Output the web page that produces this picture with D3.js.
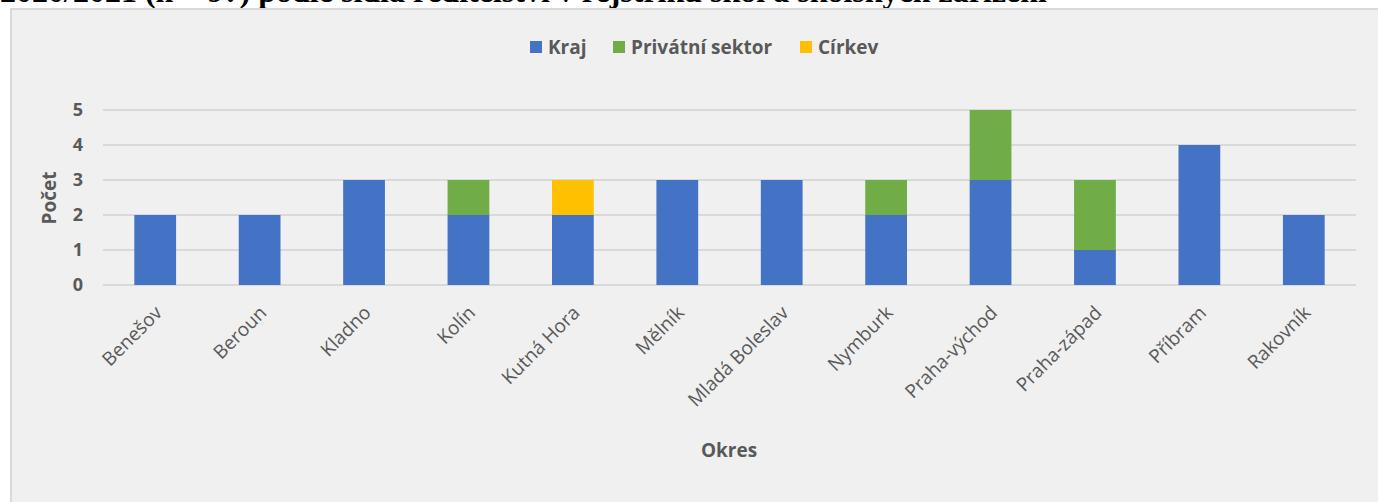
<!DOCTYPE html>
<html>
  <head>
    <meta charset="utf-8">
    <script src="https://d3js.org/d3.v7.min.js"></script>
    <title></title>
    <style>
    body {
      margin: 0;
      background-color: #fff;
      overflow: hidden;
    }
    svg {
      display: block;
    }
    .grid line {
      stroke: #d9d9d9;
      stroke-width: 2px;
    }
    .tick-y {
      font-family: "Open Sans", sans-serif;
      font-size: 18px;
      font-weight: bold;
      fill: #595959;
    }
    .tick-x {
      font-family: "Open Sans", sans-serif;
      font-size: 19px;
      fill: #595959;
    }
    .axis-title, .legend text {
      font-family: "Open Sans", sans-serif;
      font-size: 19px;
      font-weight: bold;
      fill: #595959;
    }
    </style>
  </head>
  <body>
    <script type="text/javascript">
      // data
      let okresy = ['Benešov', 'Beroun', 'Kladno', 'Kolín', 'Kutná Hora', 'Mělník',
                    'Mladá Boleslav', 'Nymburk', 'Praha-východ', 'Praha-západ', 'Příbram', 'Rakovník']
      let kraj = [2, 2, 3, 2, 2, 3, 3, 2, 3, 1, 4, 2]
      let privatni = [0, 0, 0, 1, 0, 0, 0, 1, 2, 2, 0, 0]
      let cirkev = [0, 0, 0, 0, 1, 0, 0, 0, 0, 0, 0, 0]
      let seriesNames = ['Kraj', 'Privátní sektor', 'Církev']
      let colors = ['#4472c4', '#70ad47', '#ffc000']
      let yTicks = [0, 1, 2, 3, 4, 5]

      let w = 1378
      let h = 502
      let svg = d3.select('body')
                  .append('svg')
                  .attr('width', w)
                  .attr('height', h)

      // cut-off caption above the chart
      svg.append('text')
         .attr('x', 0)
         .attr('y', 2)
         .style('font-family', '"Liberation Serif", serif')
         .style('font-weight', 'bold')
         .style('font-size', '32px')
         .style('fill', '#000')
         .text('2020/2021 (n = 9?) podle sídla ředitelství v rejstříku škol a školských zařízení')

      // chart area
      svg.append('rect')
         .attr('x', 11)
         .attr('y', 9)
         .attr('width', w)
         .attr('height', h)
         .style('fill', '#f0f0f0')
         .style('stroke', '#d9d9d9')
         .style('stroke-width', 2)

      let rows = okresy.map((d, i) => ({okres: d, kraj: kraj[i], privatni: privatni[i], cirkev: cirkev[i]}))
      let stack = d3.stack().keys(['kraj', 'privatni', 'cirkev'])(rows)

      let xScale = d3.scaleBand()
                     .domain(okresy)
                     .range([103, 1356])
                     .paddingInner(0.6)
                     .paddingOuter(0.3)
      let yScale = d3.scaleLinear()
                     .domain([0, 5])
                     .range([285, 110])

      // gridlines
      svg.append('g')
         .attr('class', 'grid')
         .selectAll('line')
         .data(yTicks)
         .enter()
         .append('line')
         .attr('x1', 103)
         .attr('x2', 1356)
         .attr('y1', d => yScale(d))
         .attr('y2', d => yScale(d))

      // bars
      svg.append('g')
         .selectAll('g')
         .data(stack)
         .enter()
         .append('g')
         .style('fill', (d, i) => colors[i])
         .selectAll('rect')
         .data(d => d)
         .enter()
         .append('rect')
         .attr('x', d => xScale(d.data.okres))
         .attr('width', xScale.bandwidth())
         .attr('y', d => yScale(d[1]))
         .attr('height', d => yScale(d[0]) - yScale(d[1]))

      // y tick labels
      svg.append('g')
         .selectAll('text')
         .data(yTicks)
         .enter()
         .append('text')
         .attr('class', 'tick-y')
         .attr('x', 83)
         .attr('y', d => yScale(d))
         .attr('dy', '0.36em')
         .attr('text-anchor', 'end')
         .text(d => d)

      // x tick labels
      svg.append('g')
         .selectAll('text')
         .data(okresy)
         .enter()
         .append('text')
         .attr('class', 'tick-x')
         .attr('text-anchor', 'end')
         .attr('transform', d => `translate(${xScale(d) + xScale.bandwidth() / 2 + 8}, 314) rotate(-45)`)
         .text(d => d)

      // axis titles
      svg.append('text')
         .attr('class', 'axis-title')
         .attr('text-anchor', 'middle')
         .attr('transform', 'translate(56, 198) rotate(-90)')
         .text('Počet')
      svg.append('text')
         .attr('class', 'axis-title')
         .attr('text-anchor', 'middle')
         .attr('x', 729)
         .attr('y', 457)
         .text('Okres')

      // legend
      let legendX = [548, 631, 818]
      let legend = svg.append('g')
                      .attr('class', 'legend')
                      .selectAll('g')
                      .data(seriesNames)
                      .enter()
                      .append('g')
                      .attr('transform', (d, i) => `translate(${legendX[i]}, 47)`)
      legend.append('rect')
            .attr('x', -18)
            .attr('y', -6)
            .attr('width', 12)
            .attr('height', 12)
            .style('fill', (d, i) => colors[i])
      legend.append('text')
            .attr('x', 0)
            .attr('dy', '0.36em')
            .text(d => d)
    </script>
  </body>
</html>
